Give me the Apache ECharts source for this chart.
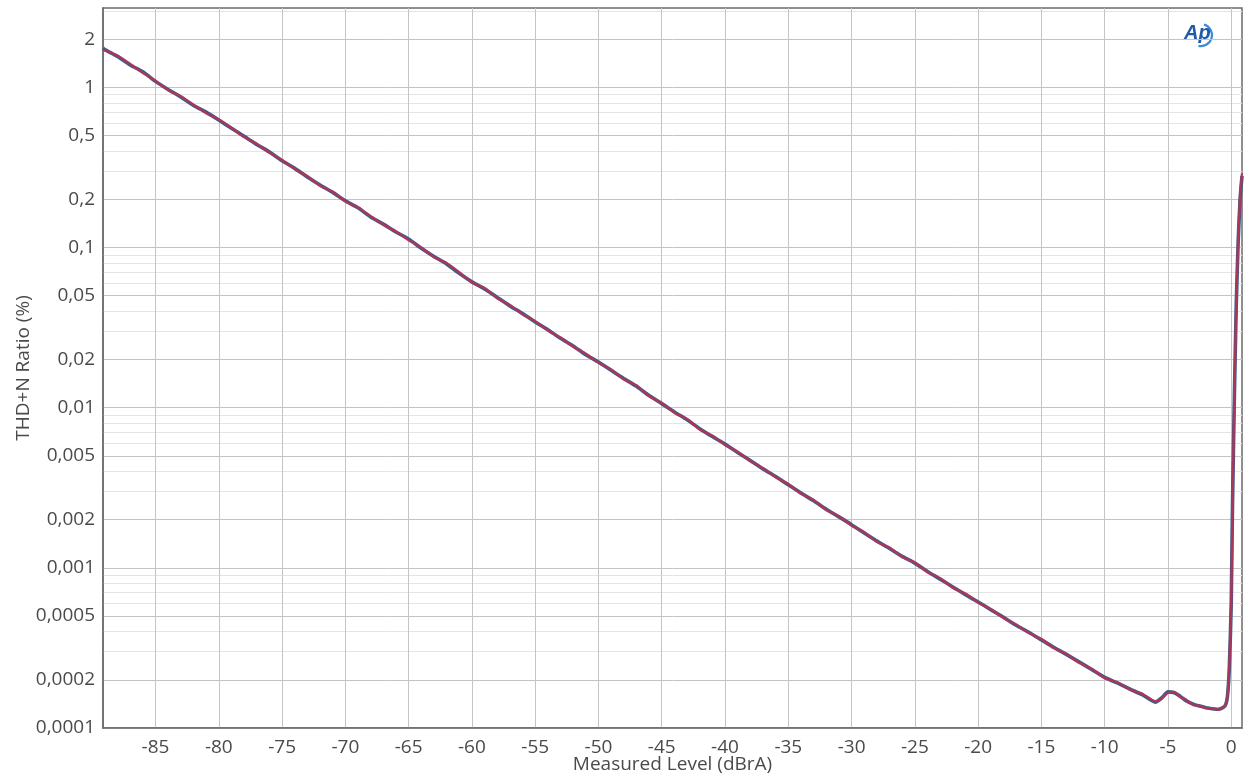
<!DOCTYPE html>
<html>
<head>
<meta charset="utf-8">
<script src="https://cdn.jsdelivr.net/npm/echarts@6/dist/echarts.min.js"></script>
<style>
html,body{margin:0;padding:0;background:#fff;}
#chart{width:1245px;height:783px;}
</style>
</head>
<body>
<div id="chart"></div>
<script>
// Measured level (dBrA)
var levels = [-89.15,-89,-88,-87,-86,-85,-84,-83,-82,-81,-80,-79,-78,-77,-76,-75,-74,-73,-72,-71,-70,
  -69,-68,-67,-66,-65,-64,-63,-62,-61,-60,-59,-58,-57,-56,-55,-54,-53,-52,-51,-50,
  -49,-48,-47,-46,-45,-44,-43,-42,-41,-40,-39,-38,-37,-36,-35,-34,-33,-32,-31,-30,
  -29,-28,-27,-26,-25,-24,-23,-22,-21,-20,-19,-18,-17,-16,-15,-14,-13,-12,-11,-10,
  -9,-8,-7,-6,-5.5,-5,-4.5,-4,-3.5,-3,-2.5,-2,-1.5,-1,-0.5,-0.3,-0.15,0,0.1,0.25,0.4,0.55,0.7,0.85];

// THD+N ratio (%) — channel 1 (blue)
var thdnBlue = [1.76,1.72,1.56,1.38,1.25,1.09,0.97,0.87,0.77,0.70,0.625,0.555,0.495,0.44,0.395,0.348,0.312,0.276,0.246,0.221,0.196,
  0.177,0.155,0.140,0.125,0.113,0.099,0.088,0.079,0.069,0.061,0.0552,0.0488,0.0432,0.0387,0.0343,0.0307,0.0271,0.0243,0.0214,0.0193,
  0.0171,0.0152,0.0136,0.0119,0.0106,0.0094,0.0084,0.0074,0.0066,0.00592,0.00525,0.00468,0.00415,0.00372,0.00330,0.00293,0.00262,0.00232,0.00208,0.00186,
  0.00165,0.00147,0.00132,0.00118,0.00107,0.00095,0.00085,0.00076,0.00068,0.000612,0.000548,0.000492,0.000438,0.000396,0.000355,0.000318,0.000287,0.000258,0.000231,0.000207,
  0.000191,0.000175,0.000161,0.000145,0.000154,0.000168,0.000166,0.000157,0.000147,0.000141,0.000137,0.000134,0.000132,0.000131,0.000137,0.000158,0.00024,0.0006,0.0025,0.012,0.045,0.11,0.2,0.28];

// THD+N ratio (%) — channel 2 (red)
var thdnRed = [1.74,1.70,1.58,1.40,1.23,1.10,0.96,0.88,0.78,0.69,0.63,0.56,0.49,0.445,0.39,0.352,0.309,0.279,0.243,0.223,0.194,
  0.178,0.157,0.139,0.126,0.111,0.100,0.087,0.080,0.070,0.0605,0.0556,0.0483,0.0437,0.0382,0.0347,0.0303,0.0274,0.0240,0.0217,0.0191,
  0.0173,0.0150,0.0138,0.0118,0.0107,0.0093,0.0085,0.0073,0.0067,0.00586,0.00530,0.00463,0.00419,0.00368,0.00334,0.00290,0.00265,0.00230,0.00210,0.00184,
  0.00167,0.00145,0.00134,0.00117,0.00108,0.00094,0.00086,0.00075,0.00069,0.000607,0.000553,0.000487,0.000443,0.000392,0.000359,0.000315,0.000290,0.000255,0.000234,0.000205,
  0.000193,0.000173,0.000163,0.000147,0.000152,0.000166,0.000168,0.000155,0.000149,0.000139,0.000138,0.000133,0.000133,0.000130,0.000138,0.000160,0.00025,0.00062,0.0026,0.0125,0.046,0.115,0.21,0.29];

var xTicks = [-85,-80,-75,-70,-65,-60,-55,-50,-45,-40,-35,-30,-25,-20,-15,-10,-5,0];
var yTicks = [0.0001,0.0002,0.0005,0.001,0.002,0.005,0.01,0.02,0.05,0.1,0.2,0.5,1,2];
var yMinorTicks = [0.0003,0.0004,0.0006,0.0007,0.0008,0.0009,0.003,0.004,0.006,0.007,0.008,0.009,
  0.03,0.04,0.06,0.07,0.08,0.09,0.3,0.4,0.6,0.7,0.8,0.9,3];

function pairs(xs, ys){ return xs.map(function(x,i){ return [x, ys[i]]; }); }

var font = '"Open Sans", "Noto Sans", sans-serif';
var chart = echarts.init(document.getElementById('chart'));
chart.setOption({
  animation: false,
  backgroundColor: '#ffffff',
  grid: { left: 103, right: 3, top: 8, bottom: 55, containLabel: false, outerBoundsMode: 'none',
    show: true, borderColor: '#6b6b6b', borderWidth: 1.5, backgroundColor: 'transparent' },
  xAxis: {
    type: 'value', min: -89.15, max: 0.85,
    name: 'Measured Level (dBrA)', nameLocation: 'middle', nameGap: 27, nameMoveOverlap: false,
    nameTextStyle: { color: '#4a4a4a', fontSize: 19, fontFamily: font },
    axisLine: { show: true, onZero: false, lineStyle: { color: '#6b6b6b', width: 1.5 } },
    axisTick: { show: false, customValues: xTicks },
    axisLabel: { customValues: xTicks, color: '#4a4a4a', fontSize: 19, fontFamily: font, margin: 10 },
    splitLine: { show: true, lineStyle: { color: '#c4c4c4', width: 1 } }
  },
  yAxis: [{
    type: 'log', logBase: 10, min: 0.0001, max: 3.13,
    name: 'THD+N Ratio (%)', nameLocation: 'middle', nameGap: 70, nameMoveOverlap: false,
    nameTextStyle: { color: '#4a4a4a', fontSize: 19, fontFamily: font },
    axisLine: { show: true, onZero: false, lineStyle: { color: '#6b6b6b', width: 1.5 } },
    axisTick: { show: false, customValues: yTicks },
    axisLabel: { customValues: yTicks, color: '#4a4a4a', fontSize: 19, fontFamily: font, margin: 8,
      formatter: function (v) { return String(+(+v).toPrecision(3)).replace('.', ','); } },
    splitLine: { show: true, lineStyle: { color: '#c4c4c4', width: 1 } }
  }, {
    type: 'log', logBase: 10, min: 0.0001, max: 3.13, position: 'left',
    axisLine: { show: false, onZero: false }, axisTick: { show: false, customValues: yMinorTicks },
    axisLabel: { show: false, customValues: yMinorTicks },
    splitLine: { show: true, lineStyle: { color: '#e4e4e4', width: 1 } }
  }],
  graphic: [{
    type: 'group', left: 1184, top: 22,
    children: [
      { type: 'arc', shape: { cx: 17, cy: 13, r: 11, startAngle: -1.3, endAngle: 1.8 },
        style: { stroke: '#3d8ad8', lineWidth: 2.2, fill: null } },
      { type: 'text', x: 0, y: 1, style: { text: 'Ap', font: 'italic bold 20px "Liberation Sans", sans-serif', fill: '#1f5aa8' } }
    ]
  }],
  series: [{
    type: 'line', name: 'Ch1', yAxisIndex: 0, data: pairs(levels, thdnBlue),
    showSymbol: false, smooth: 0.2, lineStyle: { color: '#3a5c90', width: 3.6 }, z: 3
  }, {
    type: 'line', name: 'Ch2', yAxisIndex: 0, data: pairs(levels, thdnRed),
    showSymbol: false, smooth: 0.2, lineStyle: { color: '#c0304e', width: 2.4, opacity: 0.85 }, z: 4
  }]
});
</script>
</body>
</html>
